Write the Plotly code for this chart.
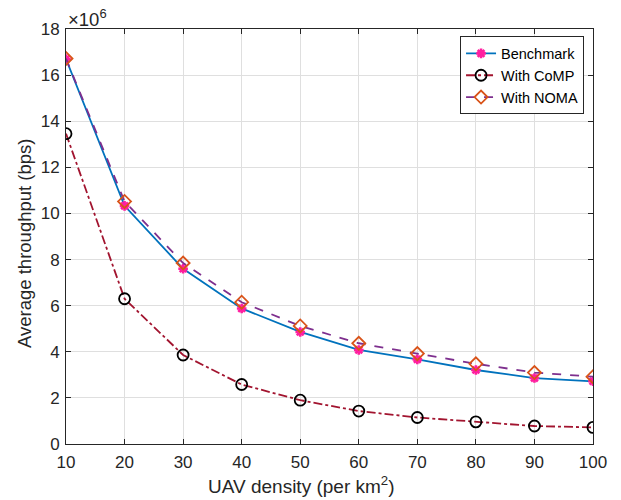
import plotly.graph_objects as go

# UAV density (per km^2)
density = [10, 20, 30, 40, 50, 60, 70, 80, 90, 100]

# Average throughput in units of 1e6 bps
benchmark = [16.7, 10.33, 7.6, 5.88, 4.86, 4.08, 3.67, 3.21, 2.86, 2.72]
with_comp = [13.46, 6.3, 3.86, 2.58, 1.9, 1.43, 1.15, 0.96, 0.78, 0.72]
with_noma = [16.72, 10.52, 7.85, 6.15, 5.12, 4.37, 3.92, 3.48, 3.1, 2.92]

y_ticks = [0, 2, 4, 6, 8, 10, 12, 14, 16, 18]
x_ticks = [10, 20, 30, 40, 50, 60, 70, 80, 90, 100]

FONT = "Liberation Sans, Arial, Helvetica, sans-serif"
INK = "#262626"

fig = go.Figure()

fig.add_trace(go.Scatter(
    x=density, y=benchmark, name="Benchmark", mode="lines+markers",
    line=dict(color="#0072BD", width=1.8),
    marker=dict(symbol="asterisk-open", size=8,
                line=dict(color="#FF1FA0", width=2.6), color="#FF1FA0"),
))
fig.add_trace(go.Scatter(
    x=density, y=with_comp, name="With CoMP", mode="lines+markers",
    line=dict(color="#A2142F", width=1.8, dash="dashdot"),
    marker=dict(symbol="circle-open", size=11,
                line=dict(color="#000000", width=1.8), color="#000000"),
))
fig.add_trace(go.Scatter(
    x=density, y=with_noma, name="With NOMA", mode="lines+markers",
    line=dict(color="#7E2F8E", width=1.8, dash="dash"),
    marker=dict(symbol="diamond-open", size=10,
                line=dict(color="#D95319", width=1.8), color="#D95319"),
))

axis_common = dict(
    showgrid=True, gridcolor="#DFDFDF", gridwidth=1,
    showline=True, linecolor=INK, linewidth=1, mirror="ticks",
    ticks="inside", ticklen=5, tickcolor=INK, tickwidth=1,
    tickfont=dict(family=FONT, size=17, color=INK),
    zeroline=False,
)

fig.update_xaxes(range=[10, 100], tickvals=x_ticks, ticklabelstandoff=3,
                 **axis_common)
fig.update_yaxes(range=[0, 18], tickvals=y_ticks, ticklabelstandoff=2,
                 **axis_common)

# axis labels
fig.add_annotation(
    x=0.446, y=-0.098, xref="paper", yref="paper",
    xanchor="center", yanchor="middle", showarrow=False,
    text="UAV density (per km<sup>2</sup>)",
    font=dict(family=FONT, size=19, color=INK),
)
fig.add_annotation(
    x=-0.08, y=0.484, xref="paper", yref="paper",
    xanchor="center", yanchor="middle", showarrow=False, textangle=-90,
    text="Average throughput (bps)",
    font=dict(family=FONT, size=18.5, color=INK),
)

# exponent note for the y axis
fig.add_annotation(
    x=0, y=1, xref="paper", yref="paper", xanchor="left", yanchor="bottom",
    text="×10<sup>6</sup>", showarrow=False, yshift=-3,
    font=dict(family=FONT, size=18.5, color=INK),
)

fig.update_layout(
    width=621, height=500,
    margin=dict(l=66, r=28, t=29, b=56),
    plot_bgcolor="white", paper_bgcolor="white",
    font=dict(family=FONT, color=INK),
    legend=dict(
        x=0.983, y=0.982, xanchor="right", yanchor="top",
        bordercolor=INK, borderwidth=1, bgcolor="white",
        font=dict(family=FONT, size=14.5, color="#000000"),
        tracegroupgap=0, itemwidth=30,
    ),
    showlegend=True,
)

fig.write_html("out.html")
